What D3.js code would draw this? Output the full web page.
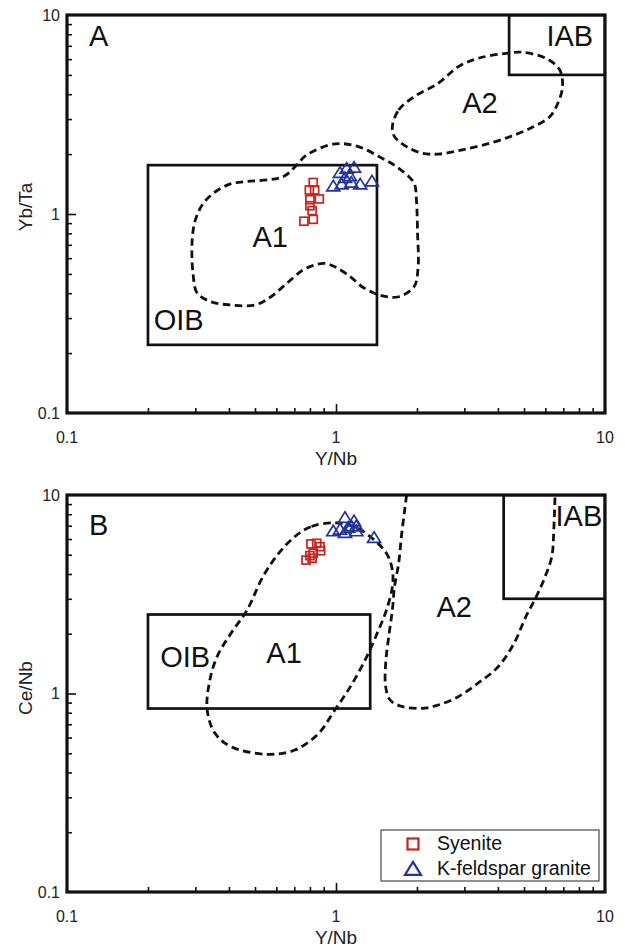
<!DOCTYPE html>
<html><head><meta charset="utf-8">
<script src="https://cdn.jsdelivr.net/npm/d3@7/dist/d3.min.js"></script>
<style>
html,body{margin:0;padding:0;background:#fff;}
svg{display:block;font-family:"Liberation Sans",Arial,Helvetica,sans-serif;}
</style></head>
<body>
<script>
// ---------- data ----------
const xDomain = [0.1, 10];
const yDomain = [0.1, 10];
const tickValues = [0.1, 1, 10];
const tickLabels = ["0.1", "1", "10"];
const minorTicks = [0.2,0.3,0.4,0.5,0.6,0.7,0.8,0.9,2,3,4,5,6,7,8,9];

// Panel A: Yb/Ta vs Y/Nb
const syeniteA = [[0.823,1.44],[0.796,1.32],[0.833,1.32],[0.80,1.18],[0.867,1.19],[0.815,1.04],[0.823,0.94],[0.76,0.92],[0.80,1.10]];
const kfgA = [[0.977,1.37],[1.05,1.40],[1.14,1.43],[1.23,1.40],[1.36,1.45],[1.035,1.60],[1.096,1.68],[1.167,1.70],[1.127,1.54],[1.08,1.51]];
const a1A = [[0.451,1.45],[0.635,1.54],[0.714,1.76],[0.778,1.98],[0.99,2.25],[1.21,2.18],[1.49,1.90],[1.71,1.70],[1.95,1.43],[1.99,1.18],[2.01,0.80],[2.02,0.543],[1.95,0.431],[1.71,0.384],[1.54,0.384],[1.39,0.40],[1.25,0.431],[1.13,0.484],[0.99,0.543],[0.908,0.565],[0.834,0.554],[0.753,0.523],[0.657,0.449],[0.573,0.384],[0.50,0.349],[0.407,0.349],[0.344,0.362],[0.305,0.40],[0.294,0.504],[0.292,0.74],[0.30,0.933],[0.321,1.13],[0.355,1.29],[0.407,1.42]];
const a2A = [[1.62,2.75],[1.71,3.33],[1.95,3.88],[2.40,4.54],[2.85,5.50],[3.38,6.06],[4.29,6.42],[4.91,6.50],[6.03,6.06],[6.79,5.29],[6.95,4.36],[6.68,3.60],[6.23,3.08],[5.44,2.75],[4.59,2.49],[3.74,2.27],[2.95,2.10],[2.40,2.00],[2.09,2.02],[1.83,2.18],[1.65,2.45]];
const oibA = [[0.2, 0.22], [1.42, 1.76]];
const iabA = [[4.4, 5.0], [10, 10]];

// Panel B: Ce/Nb vs Y/Nb
const syeniteB = [[0.807,5.67],[0.848,5.71],[0.872,5.49],[0.823,5.09],[0.877,5.24],[0.774,4.70],[0.815,4.80],[0.80,4.95]];
const kfgB = [[1.08,7.63],[1.167,7.34],[0.977,6.53],[1.035,6.66],[1.11,6.80],[1.19,6.53],[1.08,6.41],[1.385,6.05],[1.14,6.92],[1.19,6.92]];
const a1B = [[0.99,7.25],[0.806,6.92],[0.703,6.17],[0.613,5.09],[0.535,3.88],[0.467,2.63],[0.407,2.01],[0.361,1.53],[0.338,1.13],[0.332,0.826],[0.355,0.63],[0.407,0.54],[0.553,0.494],[0.703,0.519],[0.862,0.63],[0.99,0.826],[1.13,1.08],[1.30,1.53],[1.44,2.09],[1.54,2.63],[1.62,3.45],[1.62,4.19],[1.54,5.09],[1.34,6.17],[1.17,6.92]];
const a2B = [[1.83,10],[1.80,8.40],[1.75,6.17],[1.71,4.53],[1.65,3.45],[1.62,2.63],[1.57,1.93],[1.53,1.42],[1.53,1.08],[1.59,0.927],[1.77,0.858],[2.09,0.842],[2.40,0.875],[2.85,0.964],[3.38,1.13],[4.0,1.36],[4.59,1.79],[5.08,2.44],[5.53,3.04],[5.92,3.73],[6.34,4.89],[6.45,6.66],[6.52,10]];
const oibB = [[0.2, 0.84], [1.34, 2.5]];
const iabB = [[4.2, 3.0], [10, 10]];

const labelsA = [{t:"IAB",x:7.4,y:7.84},{t:"A2",x:3.43,y:3.61},{t:"A1",x:0.569,y:0.766},{t:"OIB",x:0.26,y:0.296}];
const labelsB = [{t:"IAB",x:8.0,y:7.9},{t:"A2",x:2.75,y:2.73},{t:"A1",x:0.641,y:1.60},{t:"OIB",x:0.275,y:1.53}];
const legendItems = ["Syenite", "K-feldspar granite"];

// ---------- drawing ----------
const W = 625, H = 946;
const svg = d3.select("body").append("svg").attr("width", W).attr("height", H);
const red = "#c8231e", blue = "#24339b";
const triType = (w, h) => ({ draw(ctx){ ctx.moveTo(0, -h*0.62); ctx.lineTo(w/2, h*0.38); ctx.lineTo(-w/2, h*0.38); ctx.closePath(); } });

function panel(opts){
  const {top, bottom, letter, letterY, yTitle, yTitleY, sy, kf, a1, a2, a2Closed, oib, iab, labels, legend} = opts;
  const left = 67, right = 605;
  const x = d3.scaleLog().domain(xDomain).range([left, right]);
  const y = d3.scaleLog().domain(yDomain).range([bottom, top]);
  const g = svg.append("g");
  const clipId = "clip" + letter;
  svg.append("clipPath").attr("id", clipId).append("rect")
    .attr("x", left).attr("y", top).attr("width", right-left).attr("height", bottom-top);

  const styleTicks = s => { s.select(".domain").remove(); s.selectAll("line").attr("stroke","#111").attr("stroke-width",1.6); };
  g.append("g").attr("transform", `translate(${left},0)`).call(d3.axisRight(y).tickValues(minorTicks).tickSize(5).tickFormat("")).call(styleTicks);
  g.append("g").attr("transform", `translate(${left},0)`).call(d3.axisRight(y).tickValues([1]).tickSize(9).tickFormat("")).call(styleTicks);
  g.append("g").attr("transform", `translate(0,${bottom})`).call(d3.axisTop(x).tickValues(minorTicks).tickSize(5).tickFormat("")).call(styleTicks);
  g.append("g").attr("transform", `translate(0,${bottom})`).call(d3.axisTop(x).tickValues([1]).tickSize(9).tickFormat("")).call(styleTicks);

  // tick labels
  g.selectAll(".yl").data(tickValues).enter().append("text")
    .attr("x", left - 7).attr("y", d => y(d)).attr("dy", "0.35em")
    .attr("text-anchor", "end").attr("font-size", 16).attr("fill", "#222")
    .text((d,i) => tickLabels[i]);
  g.selectAll(".xl").data(tickValues).enter().append("text")
    .attr("x", d => x(d)).attr("y", bottom + 30)
    .attr("text-anchor", "middle").attr("font-size", 16).attr("fill", "#222")
    .text((d,i) => tickLabels[i]);
  // axis titles
  g.append("text").attr("x", 336).attr("y", bottom + 51.5)
    .attr("text-anchor","middle").attr("font-size",19).attr("fill","#222").text("Y/Nb");
  g.append("text").attr("transform", `translate(32,${yTitleY}) rotate(-90)`)
    .attr("text-anchor","middle").attr("font-size",19).attr("fill","#222").text(yTitle);

  const inner = g.append("g").attr("clip-path", `url(#${clipId})`);
  [oib, iab].forEach(b => {
    inner.append("rect")
      .attr("x", x(b[0][0])).attr("y", y(b[1][1]))
      .attr("width", x(b[1][0]) - x(b[0][0])).attr("height", y(b[0][1]) - y(b[1][1]))
      .attr("fill","none").attr("stroke","#111").attr("stroke-width",2.7);
  });
  const lineC = d3.line().x(d => x(d[0])).y(d => y(d[1])).curve(d3.curveCatmullRomClosed.alpha(0.5));
  const lineO = d3.line().x(d => x(d[0])).y(d => y(d[1])).curve(d3.curveCatmullRom.alpha(0.5));
  inner.append("path").attr("d", lineC(a1)).attr("fill","none").attr("stroke","#111")
    .attr("stroke-width",2.8).attr("stroke-dasharray","7.5,4.5");
  inner.append("path").attr("d", a2Closed ? lineC(a2) : lineO(a2)).attr("fill","none").attr("stroke","#111")
    .attr("stroke-width",2.8).attr("stroke-dasharray","7.5,4.5");

  g.append("text").attr("x", 89).attr("y", letterY).attr("font-size", 29).attr("fill","#111").text(letter);
  g.selectAll(".rl").data(labels).enter().append("text")
    .attr("x", d => x(d.x)).attr("y", d => y(d.y)).attr("dy","0.36em")
    .attr("text-anchor","middle").attr("font-size",29).attr("fill","#111").text(d => d.t);

  const sq = 8;
  inner.selectAll(".sq").data(sy).enter().append("rect")
    .attr("x", d => x(d[0]) - sq/2).attr("y", d => y(d[1]) - sq/2)
    .attr("width", sq).attr("height", sq)
    .attr("fill","none").attr("stroke", red).attr("stroke-width", 1.7);
  const tri = d3.symbol().type(triType(13, 10.5));
  inner.selectAll(".tr").data(kf).enter().append("path")
    .attr("d", tri).attr("transform", d => `translate(${x(d[0])},${y(d[1])})`)
    .attr("fill","none").attr("stroke", blue).attr("stroke-width", 1.7);

  g.append("rect").attr("x", left).attr("y", top).attr("width", right-left).attr("height", bottom-top)
    .attr("fill","none").attr("stroke","#111").attr("stroke-width",3.2);

  if (legend){
    const lg = g.append("g");
    lg.append("rect").attr("x", 381).attr("y", 830).attr("width", 218).attr("height", 51)
      .attr("fill","#fff").attr("stroke","#555").attr("stroke-width",1.3);
    lg.append("rect").attr("x", 413 - 5.5).attr("y", 844 - 5.5).attr("width", 11).attr("height", 11)
      .attr("fill","none").attr("stroke", red).attr("stroke-width",2.2);
    lg.append("path").attr("d", d3.symbol().type(triType(16, 13)))
      .attr("transform","translate(413,870)").attr("fill","none").attr("stroke", blue).attr("stroke-width",2.2);
    lg.selectAll(".lt").data(legendItems).enter().append("text")
      .attr("x", 437).attr("y", (d,i) => 850 + i*24.5)
      .attr("font-size",19.5).attr("fill","#111").text(d => d);
  }
}

panel({top:15, bottom:413, letter:"A", letterY:46, yTitle:"Yb/Ta", yTitleY:207, sy:syeniteA, kf:kfgA, a1:a1A, a2:a2A, a2Closed:true, oib:oibA, iab:iabA, labels:labelsA, legend:false});
panel({top:495, bottom:892, letter:"B", letterY:535, yTitle:"Ce/Nb", yTitleY:688, sy:syeniteB, kf:kfgB, a1:a1B, a2:a2B, a2Closed:false, oib:oibB, iab:iabB, labels:labelsB, legend:true});
</script>
</body></html>
